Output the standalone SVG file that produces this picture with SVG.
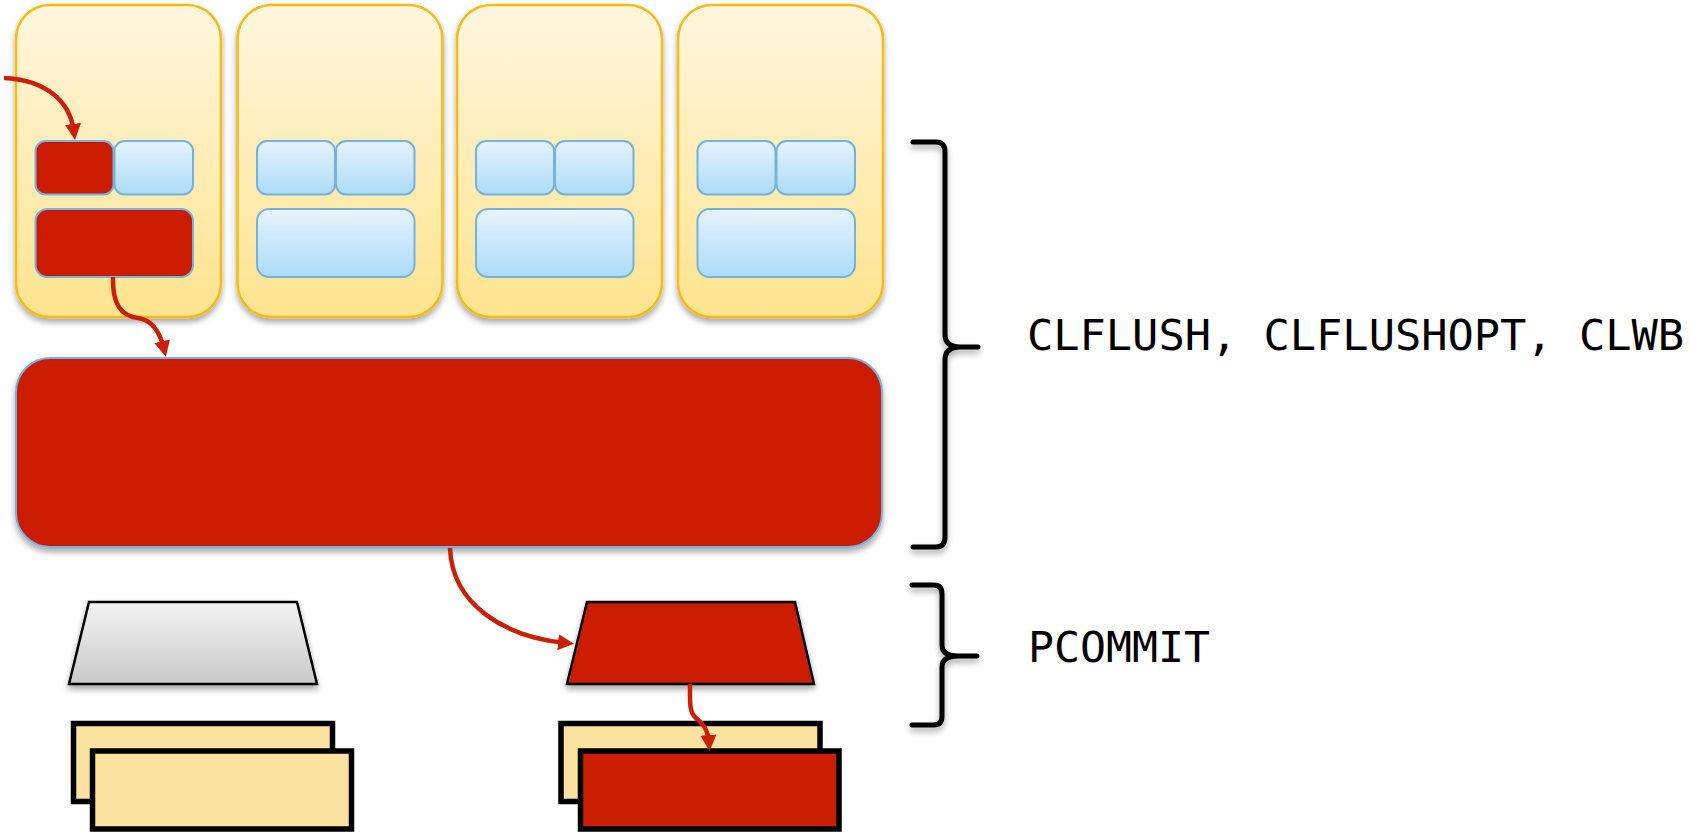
<svg xmlns="http://www.w3.org/2000/svg" width="1691" height="832" viewBox="0 0 1691 832">
  <defs>
    <linearGradient id="gCard" x1="0" y1="0" x2="0" y2="1">
      <stop offset="0" stop-color="#FFF6DE"/>
      <stop offset="1" stop-color="#FEE48F"/>
    </linearGradient>
    <linearGradient id="gBlue" x1="0" y1="0" x2="0" y2="1">
      <stop offset="0" stop-color="#E6F3FD"/>
      <stop offset="1" stop-color="#ACDCFA"/>
    </linearGradient>
    <linearGradient id="gGray" x1="0" y1="0" x2="0" y2="1">
      <stop offset="0" stop-color="#F3F3F3"/>
      <stop offset="1" stop-color="#C9C9C9"/>
    </linearGradient>
    <filter id="shadow" x="-10%" y="-10%" width="120%" height="130%">
      <feGaussianBlur in="SourceAlpha" stdDeviation="3"/>
      <feOffset dx="0" dy="4" result="b"/>
      <feComponentTransfer><feFuncA type="linear" slope="0.35"/></feComponentTransfer>
      <feMerge><feMergeNode/><feMergeNode in="SourceGraphic"/></feMerge>
    </filter>
    <marker id="head" viewBox="0 0 16 16" markerWidth="16" markerHeight="16" refX="8" refY="8" orient="auto" markerUnits="userSpaceOnUse">
      <path d="M0,0 L16,8 L0,16 z" fill="#CC1E00"/>
    </marker>
    <style>
      .card { fill: url(#gCard); stroke: #F8BA12; stroke-width: 2.5; }
      .cell { fill: url(#gBlue); stroke: #74B2DF; stroke-width: 2; }
      .hot { fill: #CC1E00; stroke: #74B2DF; stroke-width: 2; }
      .dimm { fill: #FBE2A0; stroke: #000; stroke-width: 5.5; }
      .dimm-hot { fill: #CC1E00; stroke: #000; stroke-width: 5.5; }
      .brace { fill: none; stroke: #000; stroke-width: 5; stroke-linecap: round; stroke-linejoin: round; }
      .flow { fill: none; stroke: #CC1E00; stroke-width: 4.5; marker-end: url(#head); }
      .label { font-family: "DejaVu Sans Mono", "Liberation Mono", monospace; font-size: 43.5px; fill: #000; }
    </style>
  </defs>

  <rect width="1691" height="832" fill="#FFFFFF"/>

  <!-- core 0 -->
  <g id="core0" filter="url(#shadow)">
    <rect class="card" x="16" y="5" width="205" height="312" rx="34"/>
    <rect class="hot" x="35.5" y="141" width="78" height="53.5" rx="10"/>
    <rect class="cell" x="114.5" y="141" width="78.5" height="53.5" rx="10"/>
    <rect class="hot" x="35.5" y="209" width="157.5" height="68" rx="12"/>
  </g>
  <!-- core 1 -->
  <g id="core1" filter="url(#shadow)">
    <rect class="card" x="237.5" y="5" width="205" height="312" rx="34"/>
    <rect class="cell" x="257" y="141" width="78" height="53.5" rx="10"/>
    <rect class="cell" x="336" y="141" width="78.5" height="53.5" rx="10"/>
    <rect class="cell" x="257" y="209" width="157.5" height="68" rx="12"/>
  </g>
  <!-- core 2 -->
  <g id="core2" filter="url(#shadow)">
    <rect class="card" x="457" y="5" width="205" height="312" rx="34"/>
    <rect class="cell" x="476" y="141" width="78" height="53.5" rx="10"/>
    <rect class="cell" x="555" y="141" width="78.5" height="53.5" rx="10"/>
    <rect class="cell" x="476" y="209" width="157.5" height="68" rx="12"/>
  </g>
  <!-- core 3 -->
  <g id="core3" filter="url(#shadow)">
    <rect class="card" x="678" y="5" width="205" height="312" rx="34"/>
    <rect class="cell" x="697.5" y="141" width="78" height="53.5" rx="10"/>
    <rect class="cell" x="776.5" y="141" width="78.5" height="53.5" rx="10"/>
    <rect class="cell" x="697.5" y="209" width="157.5" height="68" rx="12"/>
  </g>

  <!-- shared cache -->
  <g id="llc" filter="url(#shadow)">
    <rect class="hot" x="16" y="358" width="866" height="189" rx="34"/>
  </g>

  <!-- memory controllers -->
  <g id="imc0" filter="url(#shadow)">
    <polygon points="89,602 297,602 317,684 69,684" fill="url(#gGray)" stroke="#000" stroke-width="2.5"/>
  </g>
  <g id="imc1" filter="url(#shadow)">
    <polygon points="587,602 795,602 814,684 567,684" fill="#CC1E00" stroke="#000" stroke-width="2.5"/>
  </g>

  <!-- memory modules -->
  <g id="dimm0">
    <rect class="dimm" x="73.5" y="723.5" width="259" height="78"/>
    <rect class="dimm" x="92.5" y="751" width="259" height="78"/>
  </g>
  <g id="dimm1">
    <rect class="dimm" x="561" y="723.5" width="259" height="78"/>
    <rect class="dimm-hot" x="580.5" y="751" width="258.5" height="78"/>
  </g>

  <!-- connectors -->
  <g id="connectors">
    <path class="flow" d="M4,78 C45,80 70,100 74,132"/>
    <path class="flow" d="M113,277 C112,305 122,316 138,318 C152,320 160,332 164,349"/>
    <path class="flow" d="M450,548 C452,605 505,637 566,643"/>
    <path class="flow" stroke-width="4" d="M690,684 C690,702 689,712 696,718 C704,725 708,730 709,743"/>
  </g>

  <!-- braces and labels -->
  <g id="brace-flush" filter="url(#shadow)">
    <path class="brace" d="M913,142 L936,142 Q945,142 945,152 L945,334 Q945,347 960,347 L978,347 M960,347 Q945,347 945,360 L945,537 Q945,547 936,547 L913,547"/>
  </g>
  <g id="label-flush">
    <text class="label" x="1027" y="350" textLength="657" lengthAdjust="spacingAndGlyphs">CLFLUSH, CLFLUSHOPT, CLWB</text>
  </g>
  <g id="brace-pcommit" filter="url(#shadow)">
    <path class="brace" d="M912,585 L934,585 Q942,585 942,594 L942,645 Q942,656 958,656 L977,656 M958,656 Q942,656 942,667 L942,716 Q942,725 934,725 L912,725"/>
  </g>
  <g id="label-pcommit">
    <text class="label" x="1028" y="662" textLength="182" lengthAdjust="spacingAndGlyphs">PCOMMIT</text>
  </g>
</svg>
